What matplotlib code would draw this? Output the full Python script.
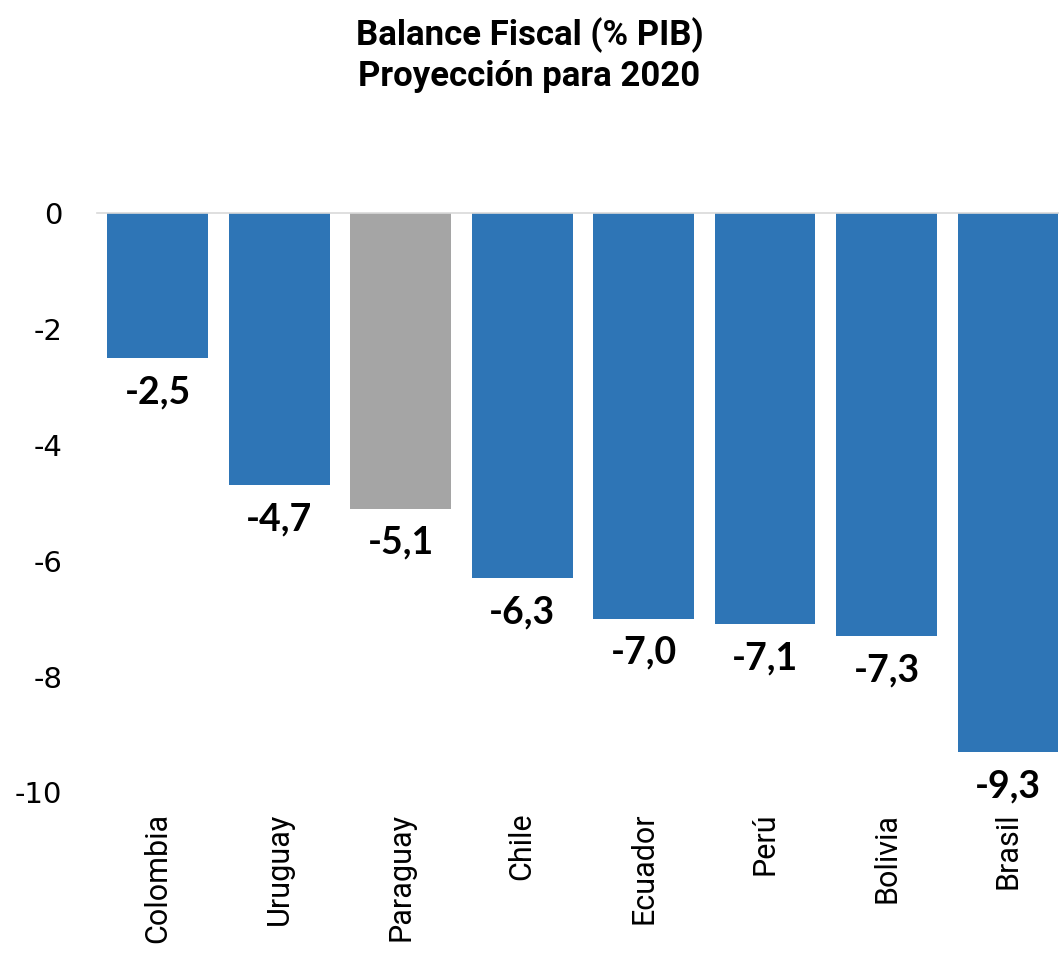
import matplotlib.pyplot as plt

BLUE = "#2E75B6"
GREY = "#A5A5A5"
AXIS = "#D9D9D9"

countries = ["Colombia", "Uruguay", "Paraguay", "Chile", "Ecuador", "Perú", "Bolivia", "Brasil"]
balance = [-2.5, -4.7, -5.1, -6.3, -7.0, -7.1, -7.3, -9.3]
highlight = "Paraguay"
yticks = [0, -2, -4, -6, -8, -10]

fig = plt.figure(figsize=(10.59, 9.64), dpi=100)
ax = fig.add_axes([0.0916, 0.178, 0.9084, 0.601])

colors = [GREY if c == highlight else BLUE for c in countries]
x = range(len(countries))
bars = ax.bar(x, balance, color=colors, width=0.83)

for b, v in zip(bars, balance):
    ax.text(b.get_x() + b.get_width() / 2, v - 0.3, f"{v:.1f}".replace(".", ","),
            ha="center", va="top", fontsize=27, fontweight="bold", family="Lato")

ax.set_ylim(-10, 0)
ax.set_xlim(-0.5, len(countries) - 0.58)
ax.set_yticks(yticks)
ax.set_yticklabels([str(t) for t in yticks], fontsize=21)
ax.tick_params(axis="y", length=0, pad=25)
ax.set_xticks([])

for i, c in enumerate(countries):
    ax.text(i, -10.35, c, rotation=90, ha="center", va="top", fontsize=22, family="Roboto")

for s in ["left", "right", "bottom"]:
    ax.spines[s].set_visible(False)
ax.spines["top"].set_color(AXIS)
ax.spines["top"].set_linewidth(1.2)

fig.text(0.5, 0.982, "Balance Fiscal (% PIB)\nProyección para 2020", ha="center", va="top",
         fontsize=25, fontweight="bold", family="Roboto", linespacing=1.25)

plt.savefig("out.png")
